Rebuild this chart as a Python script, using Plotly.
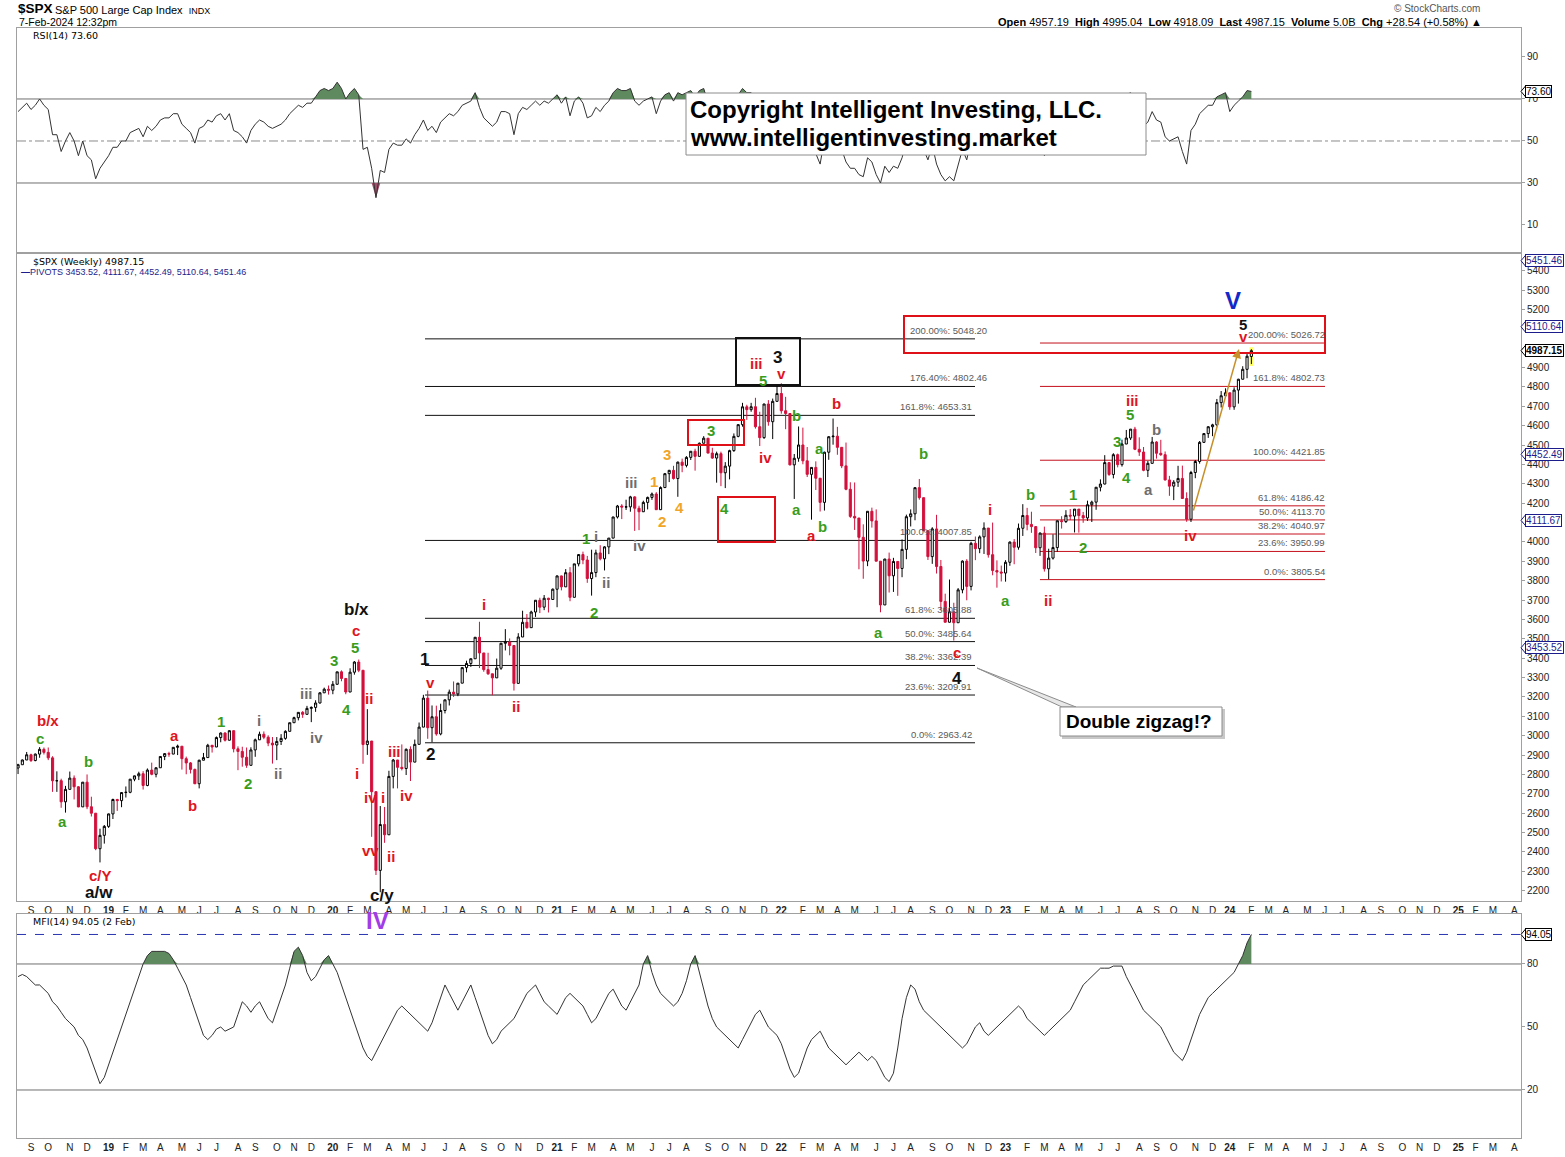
import pandas as pd
import plotly.graph_objects as go

# ------------------------------------------------------------------ data
start_week = "2018-08-13"          # weekly bars (Monday of each week)
first_open = 2833.28               # close of the week before the first bar
last_open = 4957.19                # open of the current (partial) week

close_2018 = [2850.13, 2874.69, 2901.52, 2871.68, 2904.98, 2929.67, 2913.98, 2885.57, 2767.13, 2767.78, 2658.69,
              2723.06, 2781.01, 2736.27, 2632.56, 2760.17, 2633.08, 2599.95, 2416.62, 2485.74, 2531.94]
high_2018 = [2855, 2877, 2916, 2907, 2908, 2941, 2939, 2939, 2894, 2816, 2778,
             2741, 2815, 2795, 2740, 2761, 2800, 2685, 2601, 2520, 2539]
low_2018 = [2802, 2850, 2874, 2864, 2868, 2886, 2903, 2874, 2710, 2710, 2628,
            2603, 2722, 2671, 2631, 2632, 2621, 2583, 2409, 2346, 2443]

close_2019 = [2596.26, 2670.71, 2664.76, 2706.53, 2707.88, 2775.60, 2792.67, 2803.69, 2743.07, 2822.48, 2800.71, 2834.40,
              2892.74, 2907.41, 2905.03, 2939.88, 2945.64, 2881.40, 2859.53, 2826.06, 2752.06, 2873.34, 2886.98, 2950.46,
              2941.76, 2990.41, 3013.77, 2976.61, 3025.86, 2932.05, 2918.65, 2888.68, 2847.11, 2926.46, 2978.71, 3007.39,
              2992.07, 2961.79, 2952.01, 2970.27, 2986.20, 3022.55, 3066.91, 3093.08, 3120.46, 3110.29, 3140.98, 3145.91,
              3168.80, 3221.22, 3240.02, 3234.85]
high_2019 = [2598, 2675, 2674, 2709, 2738, 2776, 2794, 2814, 2817, 2831, 2861, 2836,
             2894, 2910, 2917, 2940, 2954, 2946, 2892, 2864, 2830, 2876, 2911, 2958,
             2951, 2996, 3017, 3018, 3028, 3027, 2945, 2943, 2939, 2940, 2985, 3021,
             3022, 3002, 2993, 2993, 3008, 3028, 3067, 3098, 3121, 3127, 3154, 3151,
             3183, 3225, 3248, 3259]
low_2019 = [2524, 2570, 2612, 2631, 2681, 2703, 2765, 2771, 2722, 2739, 2796, 2785,
            2834, 2874, 2891, 2905, 2900, 2825, 2801, 2805, 2750, 2728, 2873, 2886,
            2913, 2941, 2966, 2970, 2975, 2914, 2822, 2840, 2834, 2847, 2891, 2978,
            2982, 2946, 2856, 2874, 2952, 2979, 3022, 3066, 3079, 3092, 3110, 3070,
            3123, 3166, 3221, 3212]

close_2020 = [3265.35, 3329.62, 3295.47, 3225.52, 3327.71, 3380.16, 3337.75, 2954.22, 2972.37, 2711.02, 2304.92, 2541.47,
              2488.65, 2789.82, 2874.56, 2836.74, 2830.71, 2929.80, 2863.70, 2955.45, 3044.31, 3193.93, 3041.31, 3097.74,
              3009.05, 3130.01, 3185.04, 3224.73, 3215.63, 3271.12, 3351.28, 3372.85, 3397.16, 3508.01, 3426.96, 3340.97,
              3319.47, 3298.46, 3348.44, 3477.13, 3483.81, 3465.39, 3269.96, 3509.44, 3585.15, 3557.54, 3638.35, 3699.12,
              3663.46, 3709.41, 3703.06, 3756.07]
high_2020 = [3282, 3330, 3337, 3296, 3348, 3385, 3393, 3338, 3137, 2973, 2711, 2637,
             2632, 2819, 2880, 2875, 2955, 2934, 2945, 2980, 3068, 3211, 3233, 3156,
             3155, 3165, 3186, 3238, 3280, 3272, 3352, 3387, 3399, 3509, 3588, 3427,
             3428, 3320, 3398, 3479, 3550, 3502, 3466, 3529, 3645, 3628, 3645, 3700,
             3712, 3726, 3712, 3760]
low_2020 = [3214, 3263, 3281, 3214, 3225, 3315, 3328, 2855, 2901, 2478, 2281, 2192,
            2447, 2488, 2728, 2728, 2821, 2797, 2766, 2863, 2955, 3044, 2984, 2966,
            3000, 3002, 3115, 3156, 3200, 3204, 3271, 3327, 3355, 3397, 3349, 3330,
            3314, 3209, 3298, 3340, 3440, 3415, 3233, 3269, 3509, 3552, 3557, 3613,
            3633, 3648, 3636, 3703]

close_2021 = [3824.68, 3768.25, 3841.47, 3714.24, 3886.83, 3934.83, 3906.71, 3811.15, 3841.94, 3943.34, 3913.10, 3974.54,
              4019.87, 4128.80, 4185.47, 4180.17, 4181.17, 4232.60, 4173.85, 4155.86, 4204.11, 4229.89, 4247.44, 4166.45,
              4280.70, 4352.34, 4369.55, 4327.16, 4411.79, 4395.26, 4436.52, 4468.00, 4441.67, 4509.37, 4535.43, 4458.58,
              4432.99, 4455.48, 4357.04, 4391.34, 4471.37, 4544.90, 4605.38, 4697.53, 4682.85, 4697.96, 4594.62, 4538.43,
              4712.02, 4620.64, 4725.79, 4766.18]
high_2021 = [3827, 3826, 3860, 3870, 3887, 3937, 3950, 3928, 3960, 3960, 3983, 3978,
             4020, 4130, 4191, 4195, 4218, 4238, 4236, 4187, 4213, 4234, 4255, 4257,
             4287, 4356, 4372, 4393, 4415, 4430, 4443, 4468.5, 4481, 4513, 4546, 4536,
             4486, 4466, 4466, 4412, 4476, 4560, 4608, 4718, 4708, 4718, 4744, 4672,
             4713, 4732, 4740, 4808]
low_2021 = [3663, 3750, 3768, 3694, 3714, 3874, 3885, 3789, 3723, 3818, 3905, 3853,
            3937, 4019, 4121, 4118, 4165, 4156, 4057, 4061, 4155, 4168, 4217, 4165,
            4165, 4278, 4309, 4322, 4233, 4360, 4385, 4423, 4368, 4441, 4509, 4458,
            4429, 4306, 4288, 4278, 4323, 4465, 4540, 4595, 4630, 4672, 4585, 4495,
            4532, 4600, 4531, 4725]

close_2022 = [4677.03, 4662.85, 4397.94, 4431.85, 4500.53, 4418.64, 4348.87, 4384.65, 4328.87, 4204.31, 4463.12, 4543.06,
              4545.86, 4488.28, 4392.59, 4271.78, 4131.93, 4123.34, 4023.89, 3901.36, 4158.24, 4108.54, 3900.86, 3674.84,
              3911.74, 3825.33, 3899.38, 3863.16, 3961.63, 4130.29, 4145.19, 4280.15, 4228.48, 4057.66, 3924.26, 4067.36,
              3873.33, 3693.23, 3585.62, 3639.66, 3583.07, 3752.75, 3901.06, 3770.55, 3992.93, 3965.34, 4026.12, 4071.70,
              3934.38, 3852.36, 3844.82, 3839.50]
high_2022 = [4819, 4749, 4665, 4454, 4596, 4590, 4490, 4386, 4416, 4329, 4466, 4546,
             4637, 4594, 4489, 4513, 4308, 4307, 4124, 4091, 4159, 4177, 4168, 3901,
             3913, 3945, 3918, 3900, 4013, 4141, 4168, 4281, 4325, 4229, 4062, 4076,
             4140, 3907, 3733, 3806, 3686, 3762, 3905, 3911, 4001, 4028, 4034, 4101,
             4072, 4100, 3905, 3878]
low_2022 = [4662, 4582, 4395, 4222, 4414, 4401, 4335, 4115, 4268, 4157, 4162, 4424,
            4502, 4450, 4381, 4267, 4124, 4062, 3859, 3810, 3875, 4074, 3900, 3637,
            3675, 3739, 3742, 3722, 3818, 3911, 4080, 4112, 4218, 4057, 3907, 3887,
            3837, 3647, 3584, 3584, 3491, 3583, 3735, 3699, 3750, 3906, 3942, 3938,
            3919, 3828, 3764, 3796]

close_2023 = [3895.08, 3999.09, 3972.61, 4070.56, 4136.48, 4090.46, 4079.09, 3970.04, 4045.64, 3861.59, 3916.64, 3970.99,
              4109.31, 4105.02, 4137.64, 4133.52, 4169.48, 4136.25, 4124.08, 4191.98, 4205.45, 4282.37, 4298.86, 4409.59,
              4348.33, 4450.38, 4398.95, 4505.42, 4536.34, 4582.23, 4478.03, 4464.05, 4369.71, 4405.71, 4515.77, 4457.49,
              4450.32, 4320.06, 4288.05, 4308.50, 4327.78, 4224.16, 4117.37, 4358.34, 4415.24, 4514.02, 4559.34, 4594.63,
              4604.37, 4719.19, 4754.63, 4769.83]
high_2023 = [3906, 4003, 4015, 4095, 4195, 4176, 4156, 4080, 4049, 4079, 3965, 4039,
             4110, 4133, 4164, 4170, 4170, 4170, 4155, 4213, 4213, 4283, 4323, 4448,
             4410, 4458, 4456, 4528, 4578, 4583, 4594, 4540, 4490, 4418, 4542, 4520,
             4527, 4467, 4341, 4319, 4393, 4394, 4256, 4367, 4423, 4521, 4561, 4597,
             4610, 4738, 4779, 4793]
low_2023 = [3795, 3877, 3885, 3960, 4031, 4060, 4047, 3943, 3928, 3847, 3808, 3909,
            3949, 4069, 4098, 4113, 4049, 4048, 4099, 4109, 4103, 4166, 4261, 4297,
            4341, 4328, 4385, 4389, 4505, 4526, 4474, 4444, 4365, 4335, 4405, 4430,
            4444, 4317, 4238, 4216, 4284, 4223, 4104, 4103, 4329, 4404, 4511, 4537,
            4546, 4597, 4694, 4751]

close_2024 = [4697.24, 4783.83, 4839.81, 4890.97, 4958.61, 4987.15]
high_2024 = [4770, 4798, 4842, 4907, 4975, 4995.04]
low_2024 = [4682, 4682, 4714, 4839, 4845, 4918.09]

rsi_2018 = [64, 66, 68, 65, 67, 70, 67, 65, 53, 53, 45, 50, 54, 50, 43, 50, 43, 41, 32, 37, 40]
rsi_2019 = [43, 47, 47, 50, 50, 54, 55, 56, 52, 57, 55, 57, 60, 61, 61, 63, 63, 58, 56, 54, 49, 56, 57, 60, 59, 62,
            63, 60, 63, 55, 54, 52, 49, 55, 58, 60, 59, 57, 56, 57, 58, 60, 63, 65, 67, 66, 68, 68, 71, 74, 75, 74]
rsi_2020 = [75, 78, 75, 70, 73, 75, 72, 46, 47, 37, 23, 36, 35, 46, 49, 48, 48, 51, 49, 53, 56, 60, 55, 57, 54, 59,
            61, 63, 62, 64, 67, 68, 69, 73, 66, 61, 59, 57, 59, 64, 64, 63, 53, 63, 66, 65, 67, 69, 67, 69, 68, 70]
rsi_2021 = [72, 68, 71, 62, 69, 71, 68, 61, 62, 66, 64, 67, 69, 73, 75, 74, 74, 75, 69, 67, 69, 70, 71, 63, 69, 72,
            73, 69, 73, 72, 73, 74, 71, 74, 75, 68, 66, 67, 59, 61, 65, 69, 72, 75, 73, 73, 65, 60, 69, 62, 68, 70]
rsi_2022 = [61, 60, 47, 49, 53, 48, 45, 47, 44, 39, 51, 55, 55, 51, 46, 40, 37, 37, 34, 33, 42, 40, 34, 30, 38, 35,
            38, 37, 42, 50, 51, 56, 53, 46, 41, 48, 39, 34, 31, 33, 31, 39, 46, 41, 51, 50, 52, 54, 47, 44, 44, 44]
rsi_2023 = [47, 52, 50, 55, 58, 55, 54, 48, 52, 43, 46, 49, 56, 55, 57, 57, 58, 56, 55, 59, 60, 63, 64, 69, 65, 69,
            66, 70, 72, 73, 64, 63, 57, 59, 64, 60, 59, 52, 50, 51, 52, 45, 39, 55, 58, 63, 65, 67, 67, 71, 72, 73]
rsi_2024 = [64, 67, 69, 71, 74, 73.60]

mfi_2018 = [74, 75, 74, 72, 70, 70, 68, 66, 62, 60, 57, 54, 52, 50, 46, 44, 40, 34, 28, 23, 26]
mfi_2019 = [32, 38, 44, 50, 56, 62, 68, 74, 80, 84, 86, 86, 86, 86, 85, 82, 78, 74, 70, 64, 58, 52, 46, 44, 46, 49,
            50, 48, 49, 50, 56, 62, 60, 57, 60, 62, 58, 54, 52, 58, 64, 70, 78, 86, 88, 84, 76, 72, 74, 78, 82, 84]
mfi_2020 = [80, 76, 70, 64, 58, 52, 46, 40, 36, 34, 38, 42, 46, 50, 54, 58, 60, 58, 56, 54, 52, 50, 48, 52, 58, 64,
            70, 66, 62, 58, 62, 66, 70, 64, 58, 52, 46, 42, 44, 48, 50, 52, 54, 58, 62, 66, 68, 70, 66, 62, 60, 58]
mfi_2021 = [56, 60, 64, 66, 64, 62, 60, 56, 52, 54, 58, 62, 66, 68, 64, 60, 58, 62, 66, 70, 80, 84, 76, 70, 66, 64,
            62, 60, 62, 66, 72, 80, 84, 76, 68, 60, 54, 50, 48, 46, 44, 42, 40, 44, 48, 52, 56, 58, 54, 50, 48, 46]
mfi_2022 = [42, 36, 30, 26, 28, 34, 40, 44, 46, 48, 44, 40, 38, 36, 34, 32, 34, 36, 38, 36, 34, 36, 34, 30, 26, 24,
            28, 40, 54, 64, 70, 68, 62, 58, 56, 54, 52, 50, 48, 46, 44, 42, 40, 42, 46, 50, 52, 48, 46, 48, 50, 52]
mfi_2023 = [54, 56, 58, 60, 58, 54, 52, 50, 48, 46, 48, 50, 52, 54, 56, 58, 62, 66, 70, 72, 74, 76, 78, 78, 78, 79,
            79, 79, 74, 70, 66, 62, 58, 56, 54, 52, 50, 46, 42, 38, 36, 34, 38, 44, 50, 56, 60, 64, 66, 68, 70, 72]
mfi_2024 = [74, 76, 80, 84, 90, 94.05]

pivots = [3453.52, 4111.67, 4452.49, 5110.64, 5451.46]
last_price = 4987.15
price_ticks = list(range(2200, 5401, 100))

fib_black_pct = ["200.00%", "176.40%", "161.8%", "100.0%", "61.8%", "50.0%", "38.2%", "23.6%", "0.0%"]
fib_black_val = [5048.20, 4802.46, 4653.31, 4007.85, 3605.88, 3485.64, 3362.39, 3209.91, 2963.42]
fib_red_pct = ["200.00%", "161.8%", "100.0%", "61.8%", "50.0%", "38.2%", "23.6%", "0.0%"]
fib_red_val = [5026.72, 4802.73, 4421.85, 4186.42, 4113.70, 4040.97, 3950.99, 3805.54]

closes = close_2018 + close_2019 + close_2020 + close_2021 + close_2022 + close_2023 + close_2024
highs = high_2018 + high_2019 + high_2020 + high_2021 + high_2022 + high_2023 + high_2024
lows = low_2018 + low_2019 + low_2020 + low_2021 + low_2022 + low_2023 + low_2024
rsi = rsi_2018 + rsi_2019 + rsi_2020 + rsi_2021 + rsi_2022 + rsi_2023 + rsi_2024
mfi = mfi_2018 + mfi_2019 + mfi_2020 + mfi_2021 + mfi_2022 + mfi_2023 + mfi_2024
n = len(closes)
assert len(highs) == n and len(lows) == n and len(rsi) == n and len(mfi) == n, (n, len(highs), len(lows), len(rsi), len(mfi))
opens = [first_open] + closes[:-1]
opens[-1] = last_open
dates = pd.date_range(start_week, periods=n, freq="7D")

# ------------------------------------------------------------------ layout helpers
L_PX, R_PX, T_PX, B_PX = 17, 1521, 28, 1138


def px(x):
    return (x - L_PX) / (R_PX - L_PX)


def py(y):
    return (B_PX - y) / (B_PX - T_PX)


RED = "#e0141e"
CANDLE_RED = "#d2103c"
GREEN = "#3a9c1c"
BLACK = "#111111"
GRAY = "#6e6e6e"
ORANGE = "#f0a528"
BLUE = "#1428c8"
PURPLE = "#a23ce6"
NAVY = "#1c1c8c"
FONT = "Liberation Sans, Arial, sans-serif"
LEG = "DejaVu Sans, Verdana, sans-serif"

x_range = ["2018-08-11 07:00", "2025-04-17 17:00"]
months = pd.date_range("2018-09-01", "2025-04-01", freq="MS")
tickvals = [m + pd.Timedelta(days=(7 - m.weekday()) % 7) for m in months]
ticktext = [f"<b>{m.strftime('%y')}</b>" if m.month == 1 else m.strftime('%b')[0] for m in months]

fig = go.Figure()

# RSI panel
fig.add_trace(go.Scatter(x=dates, y=[70] * n, mode="lines", line=dict(width=0), xaxis="x", yaxis="y", hoverinfo="skip"))
fig.add_trace(go.Scatter(x=dates, y=[max(v, 70) for v in rsi], mode="lines", line=dict(width=0), fill="tonexty",
                         fillcolor="#5f8a5f", xaxis="x", yaxis="y", hoverinfo="skip"))
fig.add_trace(go.Scatter(x=dates, y=[30] * n, mode="lines", line=dict(width=0), xaxis="x", yaxis="y", hoverinfo="skip"))
fig.add_trace(go.Scatter(x=dates, y=[min(v, 30) for v in rsi], mode="lines", line=dict(width=0), fill="tonexty",
                         fillcolor="#a0506a", xaxis="x", yaxis="y", hoverinfo="skip"))
fig.add_trace(go.Scatter(x=dates, y=rsi, mode="lines", line=dict(color="#333333", width=1), xaxis="x", yaxis="y",
                         hoverinfo="skip"))

# Price panel
fig.add_trace(go.Candlestick(
    x=dates, open=opens, high=highs, low=lows, close=closes,
    increasing=dict(line=dict(color="black", width=1), fillcolor="white"),
    decreasing=dict(line=dict(color=CANDLE_RED, width=1), fillcolor=CANDLE_RED),
    whiskerwidth=0, xaxis="x2", yaxis="y2", hoverinfo="skip"))

# MFI panel
fig.add_trace(go.Scatter(x=dates, y=[80] * n, mode="lines", line=dict(width=0), xaxis="x3", yaxis="y3", hoverinfo="skip"))
fig.add_trace(go.Scatter(x=dates, y=[max(v, 80) for v in mfi], mode="lines", line=dict(width=0), fill="tonexty",
                         fillcolor="#5f8a5f", xaxis="x3", yaxis="y3", hoverinfo="skip"))
fig.add_trace(go.Scatter(x=dates, y=mfi, mode="lines", line=dict(color="#333333", width=1), xaxis="x3", yaxis="y3",
                         hoverinfo="skip"))

xbase = dict(type="date", range=x_range, showgrid=False, zeroline=False, showline=True, mirror=True,
             linecolor="#a0a0a0", linewidth=1, ticks="", tickvals=tickvals, ticktext=ticktext,
             tickfont=dict(family=FONT, size=10, color="#222"), tickangle=0, automargin=False)
ybase = dict(side="right", showgrid=False, zeroline=False, showline=True, mirror=True, linecolor="#a0a0a0",
             linewidth=1, ticks="outside", ticklen=3, tickcolor="#a0a0a0", automargin=False,
             tickfont=dict(family=FONT, size=10, color="#222"))

shapes = []
annotations = []

# RSI / MFI level lines
for lvl, dash, col in [(70, "solid", "#707070"), (30, "solid", "#707070"), (50, "dashdot", "#8a8a8a")]:
    shapes.append(dict(type="line", xref="paper", yref="y", x0=0, x1=1, y0=lvl, y1=lvl,
                       line=dict(color=col, width=1, dash=dash), layer="below"))
for lvl in (80, 20):
    shapes.append(dict(type="line", xref="paper", yref="y3", x0=0, x1=1, y0=lvl, y1=lvl,
                       line=dict(color="#707070", width=1), layer="below"))
shapes.append(dict(type="line", xref="paper", yref="y3", x0=0, x1=1, y0=mfi[-1], y1=mfi[-1],
                   line=dict(color="#2a36b0", width=1, dash="dash"), layer="below"))

# Fibonacci lines
for pct, val in zip(fib_black_pct, fib_black_val):
    shapes.append(dict(type="line", xref="paper", yref="y2", x0=px(425), x1=px(975), y0=val, y1=val,
                       line=dict(color="#111", width=1), layer="below"))
    xr = 989 if pct in ("200.00%", "176.40%") else 974
    annotations.append(dict(xref="paper", yref="y2", x=px(xr), y=val, xanchor="right", yanchor="bottom",
                            text=f"{pct}: {val:.2f}", showarrow=False, yshift=1,
                            font=dict(family=FONT, size=9.5, color="#5a5a5a")))
for pct, val in zip(fib_red_pct, fib_red_val):
    shapes.append(dict(type="line", xref="paper", yref="y2", x0=px(1040), x1=px(1325), y0=val, y1=val,
                       line=dict(color="#c4101c", width=1), layer="below"))
    annotations.append(dict(xref="paper", yref="y2", x=px(1327), y=val, xanchor="right", yanchor="bottom",
                            text=f"{pct}: {val:.2f}", showarrow=False, yshift=1,
                            font=dict(family=FONT, size=9.5, color="#5a5a5a")))

# highlight of the latest bar
shapes.append(dict(type="rect", xref="x2", yref="y2", x0=dates[-1] - pd.Timedelta(days=3), x1=dates[-1] + pd.Timedelta(days=3),
                   y0=lows[-1] - 10, y1=highs[-1] + 10, fillcolor="#ffff66", line=dict(width=0), layer="below"))


def rect(x0, y0, x1, y1, color, width=2, fill=None):
    d = dict(type="rect", xref="paper", yref="paper", x0=px(x0), x1=px(x1), y0=py(y1), y1=py(y0),
             line=dict(color=color, width=width), layer="above")
    if fill:
        d["fillcolor"] = fill
    shapes.append(d)


rect(904, 316, 1325, 353, "#e01018")
rect(688, 420, 744, 445, "#e01018")
rect(718, 497, 775, 542, "#e01018")
rect(736, 338, 800, 385, "#111111")
# copyright box
rect(686, 93, 1146, 155, "#8c8c8c", width=1, fill="white")
# double zigzag callout
shapes.append(dict(type="path", xref="paper", yref="paper", layer="above",
                   path=f"M {px(977)},{py(668)} L {px(1062)},{py(707)} L {px(1076)},{py(707)} Z",
                   fillcolor="#e8e8e8", line=dict(color="#8c8c8c", width=1)))
rect(1062, 709, 1225, 739, "#c8c8c8", width=0, fill="#c8c8c8")
rect(1060, 707, 1222, 736, "#8c8c8c", width=1, fill="white")

# orange arrow
annotations.append(dict(xref="paper", yref="paper", x=px(1239), y=py(349), ax=1193 - 1239, ay=512 - 349,
                        axref="pixel", ayref="pixel", showarrow=True, arrowhead=2, arrowsize=1.2, arrowwidth=1.5,
                        arrowcolor="#c8902a", text=""))

annotations.append(dict(xref="paper", yref="paper", x=px(688), y=py(109), xanchor="left", yanchor="middle",
                        showarrow=False, text="<b>Copyright Intelligent Investing, LLC.</b>",
                        font=dict(family=FONT, size=24, color="black")))
annotations.append(dict(xref="paper", yref="paper", x=px(688), y=py(137), xanchor="left", yanchor="middle",
                        showarrow=False, text="<b>www.intelligentinvesting.market</b>",
                        font=dict(family=FONT, size=24, color="black")))
annotations.append(dict(xref="paper", yref="paper", x=px(1139), y=py(721.5), xanchor="center", yanchor="middle",
                        showarrow=False, text="<b>Double zigzag!?</b>", font=dict(family=FONT, size=19, color="black")))

# wave labels (pixel positions on the 1565x1157 canvas)
wave_labels = [
    (48, 720, "b/x", RED, 15), (40, 738, "c", GREEN, 15), (88, 761, "b", GREEN, 15), (62, 821, "a", GREEN, 15),
    (100, 875, "c/Y", RED, 15), (99, 892, "a/w", BLACK, 17), (174, 736, "a", RED, 15), (192, 806, "b", RED, 15),
    (221, 721, "1", GREEN, 15), (248, 784, "2", GREEN, 15), (259, 720, "i", GRAY, 15), (278, 773, "ii", GRAY, 15),
    (306, 693, "iii", GRAY, 15), (316, 737, "iv", GRAY, 15), (334, 660, "3", GREEN, 15), (346, 709, "4", GREEN, 15),
    (355, 647, "5", GREEN, 15), (356, 630, "c", RED, 15), (356, 609, "b/x", BLACK, 17), (369, 698, "ii", RED, 15),
    (357, 773, "i", RED, 15), (370, 797, "iv", RED, 15), (383, 797, "i", RED, 15), (370, 850, "vv", RED, 15),
    (391, 857, "ii", RED, 15), (382, 895, "c/y", BLACK, 17), (377, 920, "IV", PURPLE, 24),
    (394, 751, "iii", RED, 15), (406, 795, "iv", RED, 15), (430, 682, "v", RED, 15), (425, 659, "1", BLACK, 17),
    (430, 754, "2", BLACK, 17), (484, 604, "i", RED, 15), (516, 706, "ii", RED, 15), (586, 538, "1", GREEN, 15),
    (596, 536, "i", GRAY, 15), (594, 613, "2", GREEN, 15), (606, 582, "ii", GRAY, 15), (631, 482, "iii", GRAY, 15),
    (639, 545, "iv", GRAY, 15), (654, 481, "1", ORANGE, 15), (662, 521, "2", ORANGE, 15), (667, 455, "3", ORANGE, 15),
    (679, 507, "4", ORANGE, 15), (711, 431, "3", GREEN, 15), (724, 508, "4", GREEN, 15), (756, 363, "iii", RED, 15),
    (777, 358, "3", BLACK, 17), (763, 381, "5", GREEN, 15), (781, 373, "v", RED, 15), (765, 457, "iv", RED, 15),
    (797, 415, "b", GREEN, 15), (797, 509, "a", GREEN, 15), (836, 403, "b", RED, 15), (819, 448, "a", GREEN, 15),
    (822, 526, "b", GREEN, 15), (811, 535, "a", RED, 15), (923, 453, "b", GREEN, 15), (879, 632, "a", GREEN, 15),
    (957, 652, "c", RED, 15), (957, 678, "4", BLACK, 17), (990, 509, "i", RED, 15), (1005, 600, "a", GREEN, 15),
    (1030, 494, "b", GREEN, 15), (1048, 600, "ii", RED, 15), (1073, 494, "1", GREEN, 15), (1083, 547, "2", GREEN, 15),
    (1117, 441, "3", GREEN, 15), (1126, 477, "4", GREEN, 15), (1130, 414, "5", GREEN, 15),
    (1132, 400, "iii", RED, 15), (1156, 430, "b", GRAY, 15), (1148, 490, "a", GRAY, 15), (1190, 535, "iv", RED, 15),
    (1233, 300, "V", BLUE, 24), (1243, 324, "5", BLACK, 15), (1243, 336, "v", RED, 15),
]
for x, y, t, c, s in wave_labels:
    annotations.append(dict(xref="paper", yref="paper", x=px(x), y=py(y), text=f"<b>{t}</b>", showarrow=False,
                            xanchor="center", yanchor="middle", font=dict(family=FONT, size=s, color=c)))

# header
annotations += [
    dict(xref="paper", yref="paper", x=px(16), y=py(9), xanchor="left", yanchor="middle", showarrow=False,
         text="<b>$SPX</b>", font=dict(family=FONT, size=13.5, color="black")),
    dict(xref="paper", yref="paper", x=px(53), y=py(10), xanchor="left", yanchor="middle", showarrow=False,
         text="S&P 500 Large Cap Index  <span style='font-size:9px'>INDX</span>",
         font=dict(family=FONT, size=11, color="black")),
    dict(xref="paper", yref="paper", x=px(17), y=py(22), xanchor="left", yanchor="middle", showarrow=False,
         text="7-Feb-2024 12:32pm", font=dict(family=FONT, size=10.5, color="black")),
    dict(xref="paper", yref="paper", x=px(1482), y=py(9), xanchor="right", yanchor="middle", showarrow=False,
         text="© StockCharts.com", font=dict(family=FONT, size=10, color="#555")),
    dict(xref="paper", yref="paper", x=px(1484), y=py(22), xanchor="right", yanchor="middle", showarrow=False,
         text="<b>Open</b> 4957.19  <b>High</b> 4995.04  <b>Low</b> 4918.09  <b>Last</b> 4987.15  "
              "<b>Volume</b> 5.0B  <b>Chg</b> +28.54 (+0.58%) ▲",
         font=dict(family=FONT, size=11, color="black")),
    dict(xref="paper", yref="paper", x=px(31), y=py(35), xanchor="left", yanchor="middle", showarrow=False,
         text=f"RSI(14) {rsi[-1]:.2f}", font=dict(family=LEG, size=9.5, color="black")),
    dict(xref="paper", yref="paper", x=px(31), y=py(261), xanchor="left", yanchor="middle", showarrow=False,
         text=f"$SPX (Weekly) {last_price:.2f}", font=dict(family=LEG, size=9.5, color="black")),
    dict(xref="paper", yref="paper", x=px(19), y=py(272), xanchor="left", yanchor="middle", showarrow=False,
         text="<b>—</b>PIVOTS " + ", ".join(f"{p:.2f}" for p in pivots),
         font=dict(family=FONT, size=9, color=NAVY)),
    dict(xref="paper", yref="paper", x=px(31), y=py(921), xanchor="left", yanchor="middle", showarrow=False,
         text=f"MFI(14) {mfi[-1]:.2f} (2 Feb)", font=dict(family=LEG, size=9.5, color="black")),
]


# right-edge value tags with a small pointer
def tag(yref, val, text, color, units_per_px):
    annotations.append(dict(xref="paper", yref=yref, x=px(1525), y=val, xanchor="left", yanchor="middle",
                            showarrow=False, text=text, bgcolor="white", bordercolor=color, borderwidth=1,
                            borderpad=0, font=dict(family=FONT, size=10, color=color)))
    h = 6 * units_per_px
    shapes.append(dict(type="path", xref="paper", yref=yref, layer="above",
                       path=f"M {px(1521)},{val} L {px(1526)},{val + h} L {px(1526)},{val - h} Z",
                       fillcolor="white", line=dict(color=color, width=1)))


for p in pivots:
    tag("y2", p, f"{p:.2f}", NAVY, 1 / 0.19375)
tag("y2", last_price, f"<b>{last_price:.2f}</b>", "black", 1 / 0.19375)
tag("y", rsi[-1], f"{rsi[-1]:.2f}", "black", 1 / 2.1)
tag("y3", mfi[-1], f"{mfi[-1]:.2f}", "black", 1 / 2.1)

fig.update_layout(
    width=1565, height=1157, margin=dict(l=L_PX, r=1565 - R_PX, t=T_PX, b=1157 - B_PX, autoexpand=False),
    paper_bgcolor="white", plot_bgcolor="white", showlegend=False,
    font=dict(family=FONT, size=10, color="#222"),
    xaxis=dict(xbase, anchor="y", showticklabels=False),
    xaxis2=dict(xbase, anchor="y2", matches="x", showticklabels=True, rangeslider=dict(visible=False)),
    xaxis3=dict(xbase, anchor="y3", matches="x", showticklabels=True),
    yaxis=dict(ybase, domain=[py(252), 1.0], range=[-2.86, 103.8], tickvals=[10, 30, 50, 70, 90]),
    yaxis2=dict(ybase, domain=[py(901), py(254)], range=[2146.8, 5486.2], tickvals=price_ticks),
    yaxis3=dict(ybase, domain=[0, py(914)], range=[-2.86, 103.8], tickvals=[20, 50, 80]),
    shapes=shapes, annotations=annotations,
)

fig.write_html("out.html", config={"displayModeBar": False},
               post_script="document.body.style.margin='0px';document.body.style.overflow='hidden';")
